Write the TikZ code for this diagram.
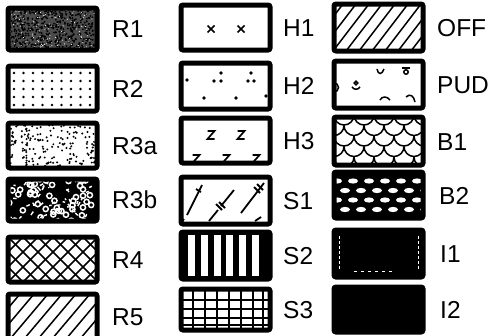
\documentclass[tikz,border=0pt]{standalone}
\usepackage{fontspec}
\setmainfont{Liberation Sans}
\begin{document}
\begin{tikzpicture}[x=1pt,y=-1pt,
  boxborder/.style={draw=black,line width=5pt,rounded corners=2pt},
  lbl/.style={anchor=base west,inner sep=0pt,font=\fontsize{24.5}{28}\selectfont},
  pat/.style={line width=1.5pt},
  zz/.style={line width=1.7pt}]
\useasboundingbox (0,0) rectangle (502,335);
\fill[white] (0,0) rectangle (502,335);
\newcommand\legbox[4]{%
  \begin{scope}[shift={(#1,#2)}]
    \begin{scope}
      \clip[rounded corners=2pt] (0,0) rectangle (89,#3);
      #4
    \end{scope}
    \draw[boxborder] (0,0) rectangle (89,#3);
  \end{scope}}
\pgfmathsetseed{7}
% ---------- column 1 ----------
% R1
\legbox{8}{8}{42}{%
  \fill[black!70] (0,0) rectangle (89,42);
  \foreach \i in {1,...,550}{\fill[black] ({rnd*89},{rnd*42}) circle (1);}
  \foreach \i in {1,...,140}{\fill[white] ({rnd*89},{rnd*42}) circle (0.55);}
}
\node[lbl] (r1) at (112,37) {R1};
% R2
\legbox{8}{66}{45}{%
  \foreach \i in {0,...,8}{\foreach \j in {0,...,4}{\fill ({6+9.5*\i},{7+8*\j}) circle (1.3);}}
}
\node[lbl] (r2) at (112,97) {R2};
% R3a
\legbox{8}{123}{45}{%
  \foreach \i in {1,...,170}{\fill ({2+rnd*85},{2+rnd*41}) circle (1.1);}
}
\node[lbl] (r3a) at (112,154) {R3a};
% R3b
\legbox{8}{179}{42}{%
  \fill[black] (0,0) rectangle (89,42);
  \foreach \i in {1,...,45}{\draw[white,line width=1.5pt] ({rnd*89},{rnd*42}) circle (2.6);}
  \foreach \i in {1,...,55}{\draw[white,line width=1.4pt] ({rnd*89},{rnd*42}) -- ++({rnd*8-4},{rnd*8-4});}
}
\node[lbl] (r3b) at (112,208) {R3b};
% R4
\legbox{8}{237}{45}{%
  \foreach \k in {-45,-30,...,90}{\draw[pat] (\k,0) -- ++(45,45); \draw[pat] (\k,45) -- ++(45,-45);}
}
\node[lbl] (r4) at (112,268) {R4};
% R5
\legbox{8}{294}{45}{%
  \foreach \k in {-40,-26,...,90}{\draw[pat] (\k,45) -- ++(38,-45);}
}
\node[lbl] (r5) at (112,325) {R5};
% ---------- column 2 ----------
% H1
\legbox{181}{5}{45}{%
  \foreach \x in {30,60}{\draw[line width=1.6pt] (\x-3.5,20.5) -- (\x+3.5,27.5); \draw[line width=1.6pt] (\x-3.5,27.5) -- (\x+3.5,20.5);}
}
\node[lbl] (h1) at (283,36) {H1};
% H2
\legbox{181}{63}{46}{%
  \foreach \p in {(40,10),(33,18),(40,18),(70,10),(67,18),(73,18),(23,35),(55,35),(6,17),(85,33)}{\fill \p circle (1.8);}
}
\node[lbl] (h2) at (283,94) {H2};
% H3
\legbox{181}{118}{45}{%
  \foreach \x/\y in {30/17,60/17,15/41,45/41,75/41}{\draw[zz] (\x-3.5,\y-4) -- (\x+3.5,\y-4) -- (\x-3.5,\y+4) -- (\x+3.5,\y+4);}
}
\node[lbl] (h3) at (283,149) {H3};
% S1
\legbox{181}{177}{47}{%
  \begin{scope}[line width=1.8pt]
  \draw (6,38) -- (21,8);
  \draw (0,46) -- (3,42);
  \draw (15,12) -- (20,15);
  \draw (28,44) -- (37,33);
  \draw (40,29) -- (53,13);
  \draw (35,27) -- (41,33);
  \draw (38,25) -- (44,31);
  \draw (60,36) -- (83,6);
  \draw (73,10) -- (79,16);
  \draw (76,7) -- (82,13);
  \draw (74,44) -- (80,40);
  \end{scope}
}
\node[lbl] (s1) at (283,209) {S1};
% S2
\legbox{181}{232}{47}{%
  \fill[black] (0,0) rectangle (89,47);
  \foreach \i in {0,...,5}{\fill[white] ({7+12.8*\i},3) rectangle ++(7,41);}
}
\node[lbl] (s2) at (283,264) {S2};
% S3
\legbox{181}{289}{41}{%
  \foreach \x in {12,24,36,48,60,72,82}{\draw[line width=1.3pt] (\x,0) -- (\x,41);}
  \foreach \y in {11,20,29,36}{\draw[line width=1.3pt] (0,\y) -- (89,\y);}
}
\node[lbl] (s3) at (283,318) {S3};
% ---------- column 3 ----------
% OFF
\legbox{334}{4}{47}{%
  \foreach \k in {-40,-27,...,95}{\draw[pat] (\k,47) -- ++(36,-47);}
}
\node[lbl] (off) at (437,36) {OFF};
% PUD
\legbox{334}{61}{47}{%
  \draw[pat] (43,8) .. controls (44,14) and (48,14) .. (50,8);
  \draw[pat] (72,11) circle (2.2);
  \draw[pat] (68,7) -- (76,7);
  \draw[pat] (22,22) circle (1.8);
  \draw[pat] (18,26) .. controls (20,29) and (24,29) .. (26,26);
  \draw[pat] (0,31) arc[start angle=90,end angle=-90,radius=4.5];
  \draw[pat] (46,39) .. controls (48,35) and (53,35) .. (56,39);
  \draw[pat] (72,36) .. controls (76,32) and (80,35) .. (81,41);
}
\node[lbl] (pud) at (437,93) {PUD};
% B1
\legbox{334}{117}{48}{%
  \foreach \j in {0,...,4}{
    \pgfmathsetmacro\off{mod(\j,2)*10}
    \foreach \i in {-1,...,5}{
      \draw[pat] ({\i*20+\off},{-2+10.5*\j}) arc[start angle=180,end angle=0,x radius=10,y radius=10];
    }}
}
\node[lbl] (b1) at (437,150) {B1};
% B2
\legbox{334}{172}{46}{%
  \fill[black] (0,0) rectangle (89,46);
  \foreach \j in {0,...,3}{
    \pgfmathsetmacro\off{mod(\j,2)*8}
    \foreach \i in {0,...,5}{
      \fill[white] ({3+\i*16+\off},{9+9.5*\j}) ellipse (5 and 2.6);
    }}
}
\node[lbl] (b2) at (439,204) {B2};
% I1
\legbox{334}{230}{47}{%
  \fill[black] (0,0) rectangle (89,47);
  \draw[white,line width=0.5pt,dash pattern=on 3pt off 2pt] (5,6) -- (5,40);
  \draw[white,line width=0.5pt,dash pattern=on 3pt off 2pt] (84,6) -- (84,40);
  \draw[white,line width=0.5pt,dash pattern=on 3pt off 4pt] (20,41) -- (60,41);
}
\node[lbl] (i1) at (440,262) {I1};
% I2
\legbox{334}{287}{45}{%
  \fill[black] (0,0) rectangle (89,45);
}
\node[lbl] (i2) at (440,318) {I2};
\end{tikzpicture}
\end{document}
